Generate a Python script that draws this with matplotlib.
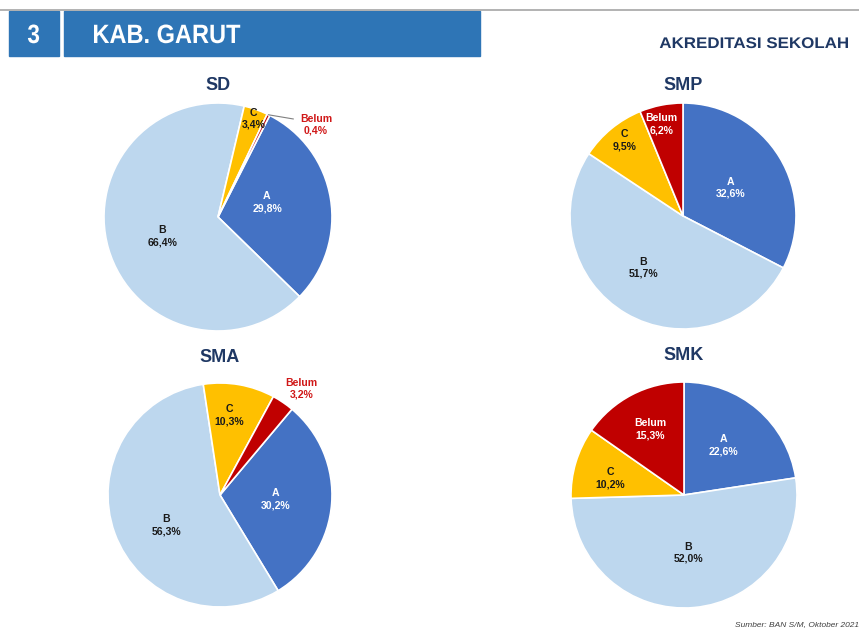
import numpy as np
import matplotlib
matplotlib.use('Agg')
import matplotlib.pyplot as plt
from matplotlib.textpath import TextPath
from matplotlib.patches import PathPatch, Rectangle
from matplotlib.font_manager import FontProperties
from matplotlib.transforms import Affine2D

plt.rcParams['font.family'] = ['Liberation Sans', 'DejaVu Sans']

# data: accreditation share per school level (%)
categories = ['A', 'B', 'C', 'Belum']
sd = [29.8, 66.4, 3.4, 0.4]
smp = [32.6, 51.7, 9.5, 6.2]
sma = [30.2, 56.3, 10.3, 3.2]
smk = [22.6, 52.0, 10.2, 15.3]
titles = ['SD', 'SMP', 'SMA', 'SMK']

colors = ['#4472C4', '#BDD7EE', '#FFC000', '#C00000']
navy = '#1F3864'

W, H = 859, 629
fig = plt.figure(figsize=(W / 100, H / 100), dpi=100)

# overlay in pixel units for the header
hdr = fig.add_axes([0, 0, 1, 1], zorder=5)
hdr.set_xlim(0, W)
hdr.set_ylim(0, H)
hdr.axis('off')
hdr.patch.set_visible(False)


def path_text(x, base, s, size, sx, color, ha='left'):
    # text drawn as a path so it can be stretched sideways
    fp = FontProperties(family='Liberation Sans', weight='bold')
    tp = TextPath((0, 0), s, size=size, prop=fp)
    ext = tp.get_extents()
    w = ext.width * sx
    x0 = x if ha == 'left' else (x - w if ha == 'right' else x - w / 2)
    tr = Affine2D().translate(-ext.x0, 0).scale(sx, 1).translate(x0, H - base)
    hdr.add_patch(PathPatch(tr.transform_path(tp), color=color, lw=0))


hdr.plot([0, W], [H - 10, H - 10], color='#A6A6A6', lw=1.2)
hdr.add_patch(Rectangle((9, H - 56), 50, 45, color='#2E75B6'))
hdr.add_patch(Rectangle((64, H - 56), 416, 45, color='#2E75B6'))
path_text(33.5, 43, '3', 26.5, 0.85, 'white', ha='center')
path_text(94, 43, 'KAB. GARUT', 26.5, 0.89, 'white')
path_text(848, 48, 'AKREDITASI SEKOLAH', 15.4, 1.1, navy, ha='right')
fig.text(735 / W, 1 - 625 / H, 'Sumber: BAN S/M, Oktober 2021', color='#404040',
         fontsize=6, style='italic', ha='left', va='center')

# layout: pie centre/radius in pixels, start angle, label spots (in radii)
layout = [
    dict(c=(218, 217), r=114, start=63, title_y=85,
         spots=[(0.43, 0.13), (-0.49, -0.17), (0.31, 0.86), (0.86, 0.81)],
         outside=[False, False, False, True]),
    dict(c=(683, 216), r=113, start=90, title_y=85,
         spots=[(0.42, 0.25), (-0.35, -0.46), (-0.52, 0.67), (-0.19, 0.81)],
         outside=[False, False, False, False]),
    dict(c=(220, 495), r=112, start=50, title_y=357,
         spots=[(0.50, -0.04), (-0.48, -0.27), (0.08, 0.71), (0.73, 0.95)],
         outside=[False, False, False, True]),
    dict(c=(684, 495), r=113, start=90, title_y=356,
         spots=[(0.35, 0.44), (0.04, -0.51), (-0.65, 0.15), (-0.30, 0.58)],
         outside=[False, False, False, False]),
]
label_colors = ['white', '#1a1a1a', '#1a1a1a', 'white']

for vals, title, lay in zip([sd, smp, sma, smk], titles, layout):
    cx, cy = lay['c']
    r = lay['r']
    ax = fig.add_axes([(cx - r) / W, 1 - (cy + r) / H, 2 * r / W, 2 * r / H])
    wedges, _ = ax.pie(vals, colors=colors, startangle=lay['start'], counterclock=False,
                       radius=1, wedgeprops=dict(edgecolor='white', linewidth=1.2))
    ax.set_xlim(-1, 1)
    ax.set_ylim(-1, 1)
    ax.set_aspect('equal')
    ax.axis('off')
    fig.text(cx / W, 1 - lay['title_y'] / H, title, color=navy, fontsize=13,
             fontweight='bold', ha='center', va='center')
    for i, (cat, v) in enumerate(zip(categories, vals)):
        x, y = lay['spots'][i]
        txt = f"{cat}\n{v:.1f}%".replace('.', ',')
        col = '#D01818' if lay['outside'][i] else label_colors[i]
        ax.text(x, y, txt, ha='center', va='center', fontsize=7.6, fontweight='bold',
                color=col, linespacing=1.25, clip_on=False)
        if lay['outside'][i] and title == 'SD':
            w = wedges[i]
            ang = np.deg2rad((w.theta1 + w.theta2) / 2)
            ax.plot([np.cos(ang), x - 0.2], [np.sin(ang), y + 0.05], color='#808080',
                    lw=0.8, clip_on=False)

fig.savefig('out.png', dpi=100)
